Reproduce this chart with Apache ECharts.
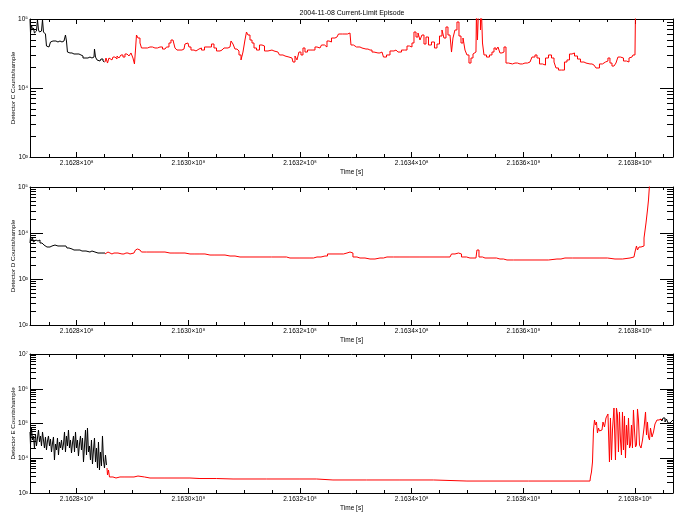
<!DOCTYPE html>
<html><head><meta charset="utf-8">
<script src="https://cdn.jsdelivr.net/npm/echarts@6/dist/echarts.min.js"></script>
<style>html,body{margin:0;padding:0;background:#fff}#c{width:684px;height:518px}</style>
</head><body><div id="c"></div><script>
// time base (s); series times are stored in kiloseconds after T0
const T0 = 216270000;
const X_MIN = 216271640, X_MAX = 216386800;

const xMajor = [216280000,216300000,216320000,216340000,216360000,216380000];
const xTickLabels = ['2.1628×10⁸','2.1630×10⁸','2.1632×10⁸','2.1634×10⁸','2.1636×10⁸','2.1638×10⁸'];
const xMinor = [216275000,216285000,216290000,216295000,216305000,216310000,216315000,216325000,216330000,216335000,216345000,216350000,216355000,216365000,216370000,216375000,216385000];

const title = '2004-11-08 Current-Limit Episode';
const yNames = ['Detector C Counts/sample','Detector D Counts/sample','Detector E Counts/sample'];
const yRanges = [[1e3,1e5],[1e2,1e5],[1e3,1e7]];

// Detector C
const cBlackT = [1.64,1.82,2.00,2.17,2.35,2.53,2.71,2.89,3.07,3.25,3.43,3.61,3.79,3.97,4.14,4.32,4.50,4.68,4.86,5.22,5.40,5.58,5.93,6.29,6.65,7.01,7.37,7.73,7.91,8.08,8.26,8.44,8.80,9.16,9.52,9.88,10.23,10.59,10.95,11.31,11.67,12.02,12.38,12.74,13.10,13.28,13.46,13.82,14.17,14.53,14.89,15.07];
const cBlackV = [98000,62700,81900,69300,74100,62700,67000,69300,98000,69300,64800,67000,62700,98000,64800,62700,60600,40600,39300,39300,46400,48000,46400,48000,46400,48000,46400,48000,49600,58600,48000,33200,32200,32200,31100,31100,31100,30100,29100,27200,26300,27200,28100,27200,28100,36700,28100,25500,24600,26300,24600,23800];
const cRedT = [15.07,15.43,15.61,15.96,16.32,16.68,17.04,17.40,17.75,18.11,18.47,18.83,19.19,19.55,19.90,20.26,20.44,20.62,20.80,21.16,21.52,21.70,22.23,23.13,24.02,24.92,25.82,26.35,26.71,27.07,27.43,27.78,28.14,28.86,29.22,29.57,29.93,30.29,30.65,31.37,31.72,32.08,32.62,33.16,33.87,34.41,34.77,35.31,36.03,36.74,37.46,37.82,38.17,38.53,38.89,39.25,39.61,39.96,40.32,40.50,40.86,41.22,41.58,41.94,42.47,43.01,43.37,43.91,44.62,45.34,46.05,46.59,47.31,48.02,48.56,48.92,49.28,49.63,49.99,50.35,50.71,51.07,51.60,52.32,53.04,53.58,54.11,54.65,55.01,55.37,55.90,56.62,57.16,58.05,58.95,59.30,59.84,60.38,61.10,61.81,62.53,63.25,63.96,64.68,65.22,65.76,66.47,67.19,67.90,68.44,68.98,69.34,69.87,70.23,70.59,70.95,71.31,71.66,72.02,72.38,72.74,73.28,73.81,74.35,74.71,75.25,75.60,75.96,76.32,76.68,77.04,77.22,77.57,77.93,78.29,78.65,79.01,79.37,79.72,80.08,80.44,80.80,81.16,81.51,81.69,81.87,82.05,82.23,82.41,82.59,82.77,83.13,83.66,84.20,84.56,84.92,85.28,85.63,85.99,86.35,86.71,87.07,87.60,88.50,89.40,90.29,91.19,91.90,92.26,92.62,93.16,93.70,94.23,94.77,95.31,95.67,96.02,96.56,97.10,97.63,97.99,98.53,98.89,99.43,99.96,100.50,101.22,101.93,102.65,103.36,103.90,104.44,104.97,105.33,105.69,106.05,106.41,106.76,107.12,107.66,108.20,108.74,109.10,109.45,109.81,109.99,110.17];
const cRedV = [23800,27200,23000,27200,25500,28100,26300,29100,27200,30100,28100,31100,29100,30100,32200,27200,22300,35500,58600,53000,44900,38000,38000,39300,38000,39300,36700,39300,44900,49600,46400,38000,35500,35500,36700,43400,44900,39300,35500,34400,36700,38000,35500,39300,39300,43400,38000,34400,35500,38000,39300,48000,43400,36700,34400,30100,25500,33200,49600,64800,58600,49600,44900,38000,35500,42000,40600,34400,35500,34400,33200,30100,29100,28100,27200,23800,29100,25500,33200,30100,38000,33200,35500,35500,39300,38000,42000,39300,48000,46400,53000,54800,60600,60600,62700,42000,39300,39300,38000,36700,35500,33200,32200,33200,28100,30100,34400,35500,33200,35500,35500,40600,39300,44900,64800,54800,62700,49600,58600,43400,54800,42000,46400,38000,43400,56700,69300,53000,76600,58600,60600,33200,53000,69300,90500,56700,44900,53000,35500,30100,23000,27200,31100,33200,130000,49600,130000,130000,69300,130000,44900,30100,28100,30100,33200,38000,35500,39300,32200,33200,39300,23000,22300,23000,22300,23000,23800,28100,30100,27200,22300,21500,27200,30100,27200,23800,19500,18200,18200,23800,25500,31100,32200,29100,26300,23800,23000,22300,21500,19500,22300,23800,24600,27200,23000,20800,19500,23000,28100,27200,24600,23800,27200,28100,30100,30100,130000];

// Detector D
const dBlackT = [1.64,1.82,2.00,2.17,2.35,2.53,2.89,3.25,3.61,3.97,4.32,4.68,5.22,5.58,6.12,6.65,7.37,8.08,8.44,8.80,9.52,10.23,10.95,11.67,12.02,12.74,13.28,13.82,14.53,15.07];
const dBlackV = [6060,8190,6700,7790,6370,7040,6700,7040,6060,5770,5480,4960,4960,5220,5480,5220,5220,5220,4720,4490,4270,4270,4060,4060,3860,4060,3860,3670,3670,3670];
const dRedT = [15.07,15.61,15.96,16.68,17.40,18.11,18.83,19.55,20.26,20.80,20.98,21.34,21.88,23.13,24.92,26.71,28.50,30.29,32.08,33.87,35.67,37.46,39.25,42.83,46.95,48.20,51.78,53.04,54.47,55.37,57.16,58.41,58.95,59.30,59.66,60.74,62.53,64.32,65.57,67.90,71.48,75.07,76.86,77.40,78.11,78.65,79.19,80.44,81.51,81.87,82.23,83.13,84.56,85.81,87.07,89.40,92.98,96.02,97.45,100.14,103.72,106.41,109.10,109.81,110.17,110.35,110.53,110.89,111.25,111.43,111.79,112.14,112.32,112.50,112.68];
const dRedV = [3500,3860,3500,3670,3670,3500,3670,3500,3670,4270,4490,4270,3860,3860,3860,3670,3670,3500,3500,3320,3320,3160,3010,3010,3010,2860,2860,3010,3160,3500,3500,3670,3860,3670,3010,2860,2720,2860,3010,3010,3010,3010,3010,3500,3670,3500,3010,2860,2860,4270,3010,2860,2860,2720,2590,2590,2590,2720,2860,2860,2860,2720,2860,3010,3860,5220,4270,4960,4720,5220,7790,16500,31600,52200,110000];

// Detector E
const eBlackT = [1.64,1.82,2.00,2.17,2.35,2.53,2.71,2.89,3.07,3.25,3.43,3.61,3.79,3.97,4.14,4.32,4.50,4.68,4.86,5.04,5.22,5.40,5.58,5.76,5.93,6.11,6.29,6.47,6.65,6.83,7.01,7.19,7.37,7.55,7.73,7.91,8.08,8.26,8.44,8.62,8.80,8.98,9.16,9.34,9.52,9.70,9.88,10.05,10.23,10.41,10.59,10.77,10.95,11.13,11.31,11.49,11.67,11.85,12.02,12.20,12.38,12.56,12.74,12.92,13.10,13.28,13.46,13.64,13.82,13.99,14.17,14.35,14.53,14.71,14.89,15.07,15.25,15.43];
const eBlackV = [56940,24060,74200,33510,43690,19720,49870,22520,38250,65000,29350,43690,22520,56940,33510,19720,40890,17280,31360,43690,22520,35800,15130,27470,40890,8900,25700,17280,38250,12400,29350,19720,33510,17280,25700,56940,15130,43690,22520,65000,19720,33510,14160,27470,43690,15130,56940,19720,33510,11610,25700,43690,17280,38250,7800,22520,65000,12400,74200,15130,22520,8900,33510,6830,17280,38250,7800,19720,5240,29350,4590,15130,5980,43690,8900,5240,12400,6400];
const eRedT = [15.43,15.61,15.79,15.96,17.04,17.75,19.55,20.98,21.16,23.13,28.50,32.08,38.00,49.99,55.90,67.90,79.90,101.93,102.11,102.29,102.47,102.65,102.83,103.00,103.18,103.36,103.54,103.72,104.08,104.44,104.62,104.97,105.33,105.51,105.69,105.87,106.05,106.41,106.58,106.76,106.94,107.12,107.30,107.48,107.66,107.84,108.02,108.20,108.38,108.56,108.74,108.92,109.10,109.27,109.45,109.63,109.81,109.99,110.17,110.35,110.53,110.71,110.89,111.25,111.43,111.79,111.97,112.14,112.32,112.50,112.68,112.86,113.22,113.40,113.75,114.11,114.47,114.83];
const eRedV = [5240,3300,4590,2890,2700,2890,2890,3080,2890,2700,2700,2610,2530,2530,2370,2370,2210,2210,2890,4020,7800,65000,126100,90500,110500,53300,74200,60850,65000,110500,79300,144000,187700,7800,144000,8900,65000,279000,8900,279000,175600,15130,214300,33510,12400,214300,17280,164400,10170,90500,24060,144000,19720,24060,90500,19720,244700,65000,21070,24060,261400,126100,24060,19720,33510,74200,214300,46670,110500,40890,33510,74200,40890,56940,96750,126100,134700,126100];
const eTailT = [114.47,114.83,115.19,115.55,115.72,116.08,116.44,116.80];
const eTailV = [134700,118000,144000,110500,134700,103400,118000,126100];

const FONT = 'Liberation Sans';
const SUP = {'0':'⁰','1':'¹','2':'²','3':'³','4':'⁴','5':'⁵','6':'⁶','7':'⁷','8':'⁸','9':'⁹'};
function pairs(ts, vs){ const n=Math.min(ts.length,vs.length); const out=[]; for(let i=0;i<n;i++) out.push([T0+ts[i]*1000, vs[i]]); return out; }
function decades(r){ const a=[]; for(let e=Math.round(Math.log10(r[0])); e<=Math.round(Math.log10(r[1])); e++) a.push(Math.pow(10,e)); return a; }
function minors(r){ const a=[]; const d=decades(r); for(let i=0;i<d.length-1;i++) for(let k=2;k<=9;k++) a.push(k*d[i]); return a; }

const grids = [
  {left:30, right:11, top:19, height:138, outerBoundsMode:'none', containLabel:false},
  {left:30, right:11, top:187, height:138, outerBoundsMode:'none', containLabel:false},
  {left:30, right:11, top:354, height:139, outerBoundsMode:'none', containLabel:false}
];
const lineC = {color:'#000', width:1};
const xAxis = [], yAxis = [];
grids.forEach((g,i)=>{
  const bx = {gridIndex:i, type:'value', min:X_MIN, max:X_MAX, splitLine:{show:false}, axisLine:{show:true, lineStyle:lineC}, axisLabel:{show:false}, axisTick:{show:false}};
  xAxis.push(Object.assign({}, bx, {position:'bottom',
    axisTick:{show:true, inside:true, length:5, customValues:xMajor, lineStyle:lineC},
    axisLabel:{show:true, customValues:xMajor, margin:3, fontSize:6.5, fontFamily:FONT, color:'#000',
      formatter:(v)=>{ const k=xMajor.indexOf(v); return k>=0?xTickLabels[k]:''; }},
    name:'Time [s]', nameLocation:'middle', nameGap:12, nameTextStyle:{fontSize:6.5, fontFamily:FONT, color:'#000'}}));
  xAxis.push(Object.assign({}, bx, {position:'bottom', axisLine:{show:false}, axisTick:{show:true, inside:true, length:3, customValues:xMinor, lineStyle:lineC}}));
  xAxis.push(Object.assign({}, bx, {position:'top', axisTick:{show:true, inside:true, length:5, customValues:xMajor, lineStyle:lineC}}));
  xAxis.push(Object.assign({}, bx, {position:'top', axisLine:{show:false}, axisTick:{show:true, inside:true, length:3, customValues:xMinor, lineStyle:lineC}}));
  const r = yRanges[i];
  const by = {gridIndex:i, type:'log', logBase:10, min:r[0], max:r[1], splitLine:{show:false}, axisLine:{show:true, lineStyle:lineC}, axisLabel:{show:false}, axisTick:{show:false}};
  yAxis.push(Object.assign({}, by, {position:'left',
    axisTick:{show:true, inside:true, length:13, customValues:decades(r), lineStyle:lineC},
    axisLabel:{show:true, customValues:decades(r), margin:2, fontSize:6.5, fontFamily:FONT, color:'#000',
      formatter:(v)=>'10'+SUP[String(Math.round(Math.log10(v)))]},
    name:yNames[i], nameLocation:'middle', nameGap:14, nameMoveOverlap:false, nameTextStyle:{fontSize:6.2, fontFamily:FONT, color:'#000'}}));
  yAxis.push(Object.assign({}, by, {position:'left', axisLine:{show:false}, axisTick:{show:true, inside:true, length:6, customValues:minors(r), lineStyle:lineC}}));
  yAxis.push(Object.assign({}, by, {position:'right', axisTick:{show:true, inside:true, length:13, customValues:decades(r), lineStyle:lineC}}));
  yAxis.push(Object.assign({}, by, {position:'right', axisLine:{show:false}, axisTick:{show:true, inside:true, length:6, customValues:minors(r), lineStyle:lineC}}));
});

function ser(i, data, color){
  return {type:'line', xAxisIndex:i*4, yAxisIndex:i*4, data:data, showSymbol:false, symbol:'none', step:'middle',
    lineStyle:{color:color, width:1}, itemStyle:{color:color}, animation:false, silent:true, clip:true};
}
const series = [
  ser(0, pairs(cBlackT,cBlackV), '#000000'),
  ser(0, pairs(cRedT,cRedV), '#ff0000'),
  ser(1, pairs(dBlackT,dBlackV), '#000000'),
  ser(1, pairs(dRedT,dRedV), '#ff0000'),
  ser(2, pairs(eBlackT,eBlackV), '#000000'),
  ser(2, pairs(eTailT,eTailV), '#000000'),
  ser(2, pairs(eRedT,eRedV), '#ff0000')
];

const chart = echarts.init(document.getElementById('c'), null, {renderer:'canvas'});
chart.setOption({
  animation:false,
  backgroundColor:'#fff',
  title:{text:title, left:352, top:10, textAlign:'center', padding:0, textStyle:{fontSize:7, fontWeight:'normal', fontFamily:FONT, color:'#000'}},
  grid:grids, xAxis:xAxis, yAxis:yAxis, series:series
});
</script></body></html>
